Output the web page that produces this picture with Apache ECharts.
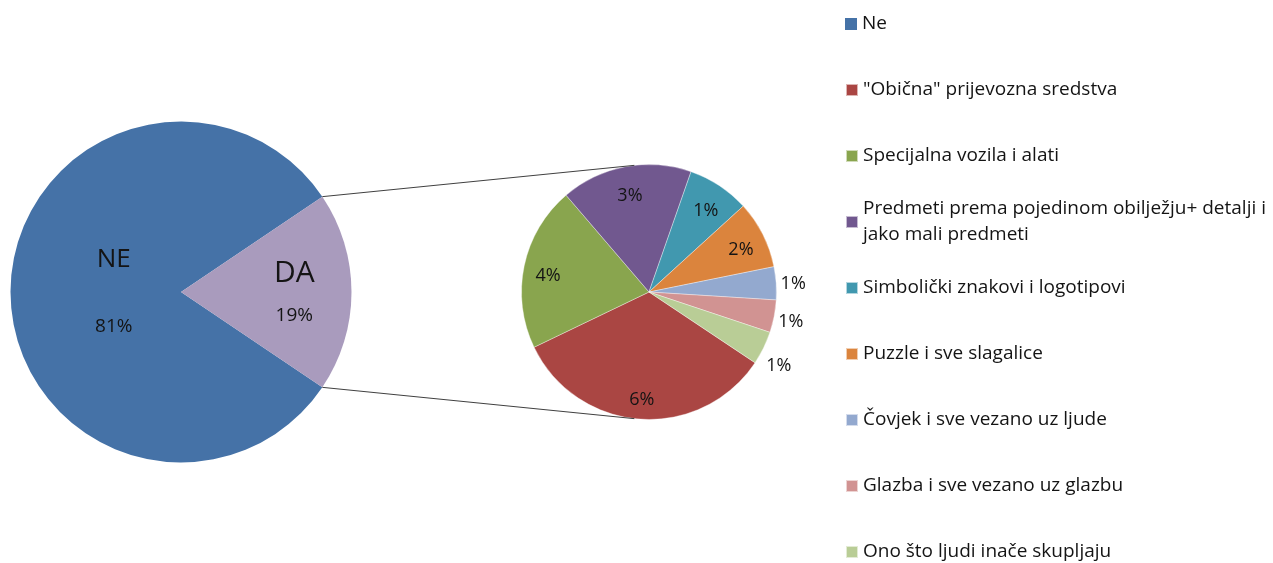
<!DOCTYPE html>
<html><head><meta charset="utf-8">
<script src="https://cdn.jsdelivr.net/npm/echarts@6/dist/echarts.min.js"></script>
<style>html,body{margin:0;padding:0;background:#fff}#c{width:1273px;height:563px}</style>
</head><body><div id="c"></div>
<script>
// ---- data ----
const mainNames = ['Ne', 'DA'];
const mainLabels = ['NE', 'DA'];
const neValue = 81.1;
const subNames = [
  '"Obična" prijevozna sredstva',
  'Specijalna vozila i alati',
  'Predmeti prema pojedinom obilježju+ detalji i jako mali predmeti',
  'Simbolički znakovi i logotipovi',
  'Puzzle i sve slagalice',
  'Čovjek i sve vezano uz ljude',
  'Glazba i sve vezano uz glazbu',
  'Ono što ljudi inače skupljaju'
];
const subValues = [6.33, 3.94, 3.14, 1.49, 1.62, 0.79, 0.78, 0.80];

// ---- styles ----
const mainColors = ['#4572A7', '#A99BBD'];
const subColors = ['#AA4643', '#89A54E', '#71588F', '#4198AF', '#DB843D', '#93A9CF', '#D19392', '#B9CD96'];
const FONT = '"Open Sans", sans-serif';
const TXT = '#141414';

const daValue = subValues.reduce((a, b) => a + b, 0);
const mainValues = [neValue, daValue];
const total = neValue + daValue;
const pct = v => Math.round(v / total * 100) + '%';

const C1 = [181, 292], R1 = 170.5;
const C2 = [649, 292], R2 = 127.5;
const halfDA = daValue / total * 180;

const mainData = mainNames.map((n, i) => ({ name: n, value: mainValues[i], itemStyle: { color: mainColors[i] } }));
const subData = subNames.map((n, i) => ({ name: n, value: subValues[i], itemStyle: { color: subColors[i] } }));
const ghostData = subNames.map((n, i) => ({ name: n, value: subValues[i], itemStyle: { color: 'rgba(0,0,0,0)' } }));

const chart = echarts.init(document.getElementById('c'), null, { renderer: 'canvas' });

// legends: one per entry
const legendNames = [mainNames[0]].concat(subNames);
const legends = legendNames.map((n, i) => {
  const cy = 24 + 66 * i;
  const wrap = n.indexOf('jako mali') >= 0;
  return {
    data: [n],
    orient: 'vertical',
    left: 845,
    top: wrap ? cy - 39 : cy - 13,
    padding: 0,
    icon: 'rect',
    itemWidth: 12,
    itemHeight: 12,
    selectedMode: false,
    formatter: name => name.replace(' jako mali', '\njako mali'),
    textStyle: Object.assign({ fontFamily: FONT, fontSize: 19, color: TXT, lineHeight: 26 },
      wrap ? { padding: [26, 0, 0, 0] } : {})
  };
});

const a = halfDA * Math.PI / 180;
const b = 96.6 * Math.PI / 180;
const lineStyle = { stroke: '#404040', lineWidth: 1 };

chart.setOption({
  backgroundColor: '#fff',
  animation: false,
  legend: legends,
  graphic: [
    { type: 'line', z: 10, silent: true, shape: { x1: C1[0] + R1 * Math.cos(a), y1: C1[1] - R1 * Math.sin(a), x2: C2[0] + R2 * Math.cos(b), y2: C2[1] - R2 * Math.sin(b) }, style: lineStyle },
    { type: 'line', z: 10, silent: true, shape: { x1: C1[0] + R1 * Math.cos(a), y1: C1[1] + R1 * Math.sin(a), x2: C2[0] + R2 * Math.cos(b), y2: C2[1] + R2 * Math.sin(b) }, style: lineStyle }
  ],
  series: [
    {
      type: 'pie', center: C1, radius: [0, R1], startAngle: -halfDA, clockwise: true,
      data: mainData, silent: true, emphasis: { disabled: true },
      label: {
        show: true, position: 'inside', color: TXT, fontFamily: FONT,
        formatter: p => p.dataIndex === 0
          ? '{n|' + mainLabels[0] + '}\n{p|' + pct(p.value) + '}'
          : '{d|' + mainLabels[1] + '}\n{p|' + pct(p.value) + '}',
        rich: {
          n: { fontSize: 26, lineHeight: 90, fontFamily: FONT, color: TXT },
          d: { fontSize: 30, lineHeight: 42, fontFamily: FONT, color: TXT },
          p: { fontSize: 19, lineHeight: 44, fontFamily: FONT, color: TXT }
        }
      },
      labelLayout: p => p.dataIndex === 0 ? { dx: 21, dy: -10 } : { dx: 25, dy: 3 },
      labelLine: { show: false }
    },
    {
      type: 'pie', center: C2, radius: [0, R2], startAngle: -33.7, clockwise: true,
      data: subData, silent: true, emphasis: { disabled: true },
      itemStyle: { borderColor: 'rgba(255,255,255,0.6)', borderWidth: 0.6 },
      label: { show: false }, labelLine: { show: false }
    },
    {
      type: 'pie', center: C2, radius: [0, R2 * 1.57], startAngle: -33.7, clockwise: true,
      data: ghostData, silent: true, emphasis: { disabled: true },
      label: {
        show: true, position: 'inside', color: TXT, fontFamily: FONT, fontSize: 18,
        formatter: p => p.dataIndex < 5 ? pct(p.value) : ''
      },
      labelLayout: { dy: 5 },
      labelLine: { show: false }
    },
    {
      type: 'pie', center: C2, radius: [0, R2 * 2.22], startAngle: -33.7, clockwise: true,
      data: ghostData, silent: true, emphasis: { disabled: true },
      label: {
        show: true, position: 'inside', color: TXT, fontFamily: FONT, fontSize: 18,
        formatter: p => p.dataIndex >= 5 ? pct(p.value) : ''
      },
      labelLayout: p => ({ dy: p.dataIndex === 7 ? 10 : 2 }),
      labelLine: { show: false }
    }
  ]
});
</script>
</body></html>
